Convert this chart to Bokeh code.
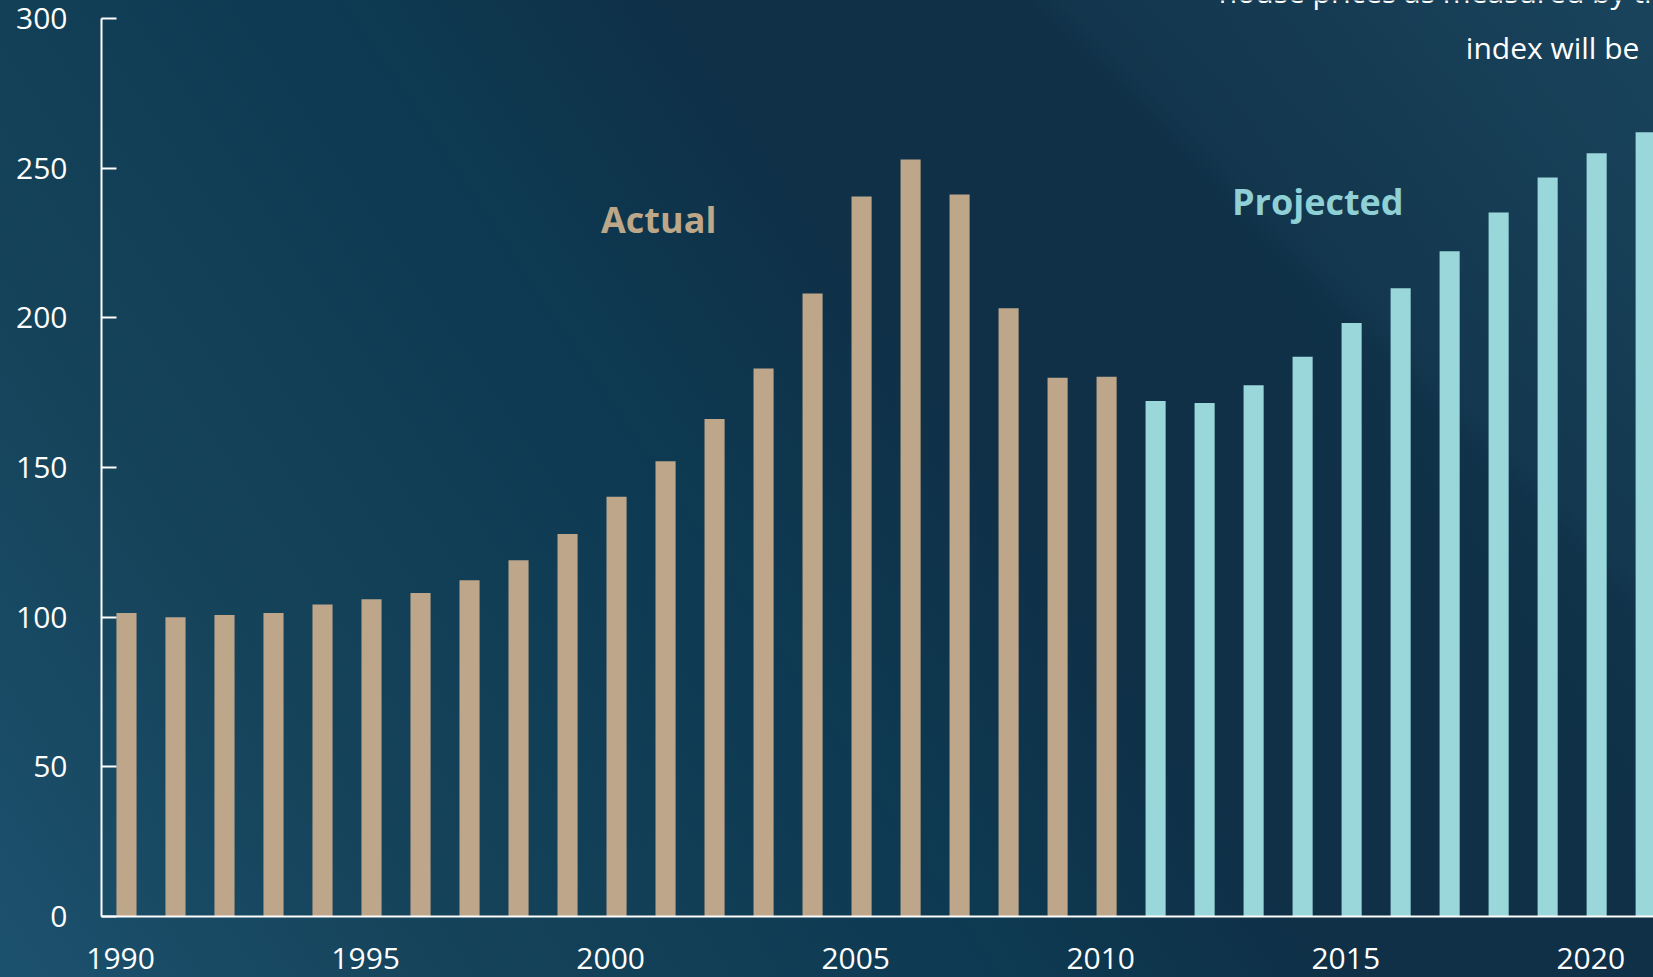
from bokeh.plotting import figure
from bokeh.models import Label, FixedTicker, CustomJSTickFormatter
from bokeh.embed import file_html
from bokeh.resources import INLINE

# ---- data ----
actual_years = list(range(1990, 2011))
actual_values = [101.4, 100.0, 100.7, 101.4, 104.2, 106.0, 108.1, 112.3, 119.0, 127.8,
                 140.2, 152.1, 166.2, 183.1, 208.1, 240.5, 252.9, 241.2, 203.2, 180.0, 180.3]
projected_years = list(range(2011, 2022))
projected_values = [172.2, 171.5, 177.5, 187.0, 198.3, 209.9, 222.2, 235.2, 246.9, 255.0, 262.0]
x_tick_years = [1990, 1995, 2000, 2005, 2010, 2015, 2020]
y_tick_values = [0, 50, 100, 150, 200, 250, 300]

TAN = "#bea68a"
CYAN = "#9ad7da"
WHITE = "#ffffff"
FONT = "Open Sans"
LABEL_SHIFT = 0.12  # year labels sit slightly left of their bars in the original

p = figure(width=1653, height=977,
           x_range=(1989.49, 2021.16), y_range=(0, 306.0),
           output_backend="svg", toolbar_location=None,
           min_border_left=101, min_border_right=0,
           min_border_top=0, min_border_bottom=61)

p.styles = {
    "background": (
        "linear-gradient(45deg, rgba(0,0,0,0) 76%, rgba(70,130,160,0.05) 77.5%, rgba(70,130,160,0.12) 100%),"
        "linear-gradient(56deg, #1c516e 0%, #15435a 20%, #0d3a52 43%, #0f3047 58%, #0f3046 72%, #133b53 100%)"
    )
}
p.background_fill_color = None
p.border_fill_color = None
p.outline_line_color = None
p.grid.visible = False

p.vbar(x=actual_years, top=actual_values, width=0.41, fill_color=TAN, line_color=None)
p.vbar(x=projected_years, top=projected_values, width=0.41, fill_color=CYAN, line_color=None)

# x axis
xa = p.xaxis[0]
xa.ticker = FixedTicker(ticks=[y - LABEL_SHIFT for y in x_tick_years], minor_ticks=[])
xa.formatter = CustomJSTickFormatter(code="return String(Math.round(tick));")
xa.major_tick_in = 0
xa.major_tick_out = 0
xa.minor_tick_in = 0
xa.minor_tick_out = 0
xa.axis_line_color = WHITE
xa.axis_line_width = 2
xa.major_label_text_font = FONT
xa.major_label_text_font_size = "30px"
xa.major_label_text_color = WHITE
xa.major_label_standoff = 31

# y axis
ya = p.yaxis[0]
ya.ticker = FixedTicker(ticks=y_tick_values, minor_ticks=[])
ya.bounds = (0, 300)
ya.major_tick_in = 15
ya.major_tick_out = 0
ya.minor_tick_in = 0
ya.minor_tick_out = 0
ya.major_tick_line_color = WHITE
ya.major_tick_line_width = 2
ya.axis_line_color = WHITE
ya.axis_line_width = 2
ya.major_label_text_font = FONT
ya.major_label_text_font_size = "30px"
ya.major_label_text_color = WHITE
ya.major_label_standoff = 34

# annotations
p.add_layout(Label(x=2000.86, y=232.9, text="Actual", text_align="center",
                   text_baseline="middle", text_font=FONT, text_font_size="36px",
                   text_font_style="bold", text_color="#bda789"))
p.add_layout(Label(x=2014.31, y=238.9, text="Projected", text_align="center",
                   text_baseline="middle", text_font=FONT, text_font_size="36px",
                   text_font_style="bold", text_color="#8fd0d6"))
p.add_layout(Label(x=2012.29, y=309.0, text="house prices as measured by the",
                   text_align="left", text_baseline="alphabetic", text_font=FONT,
                   text_font_size="30px", text_color=WHITE))
p.add_layout(Label(x=2017.33, y=290.2, text="index will be",
                   text_align="left", text_baseline="alphabetic", text_font=FONT,
                   text_font_size="30px", text_color=WHITE))

open("out.html", "w").write(file_html(p, INLINE))
